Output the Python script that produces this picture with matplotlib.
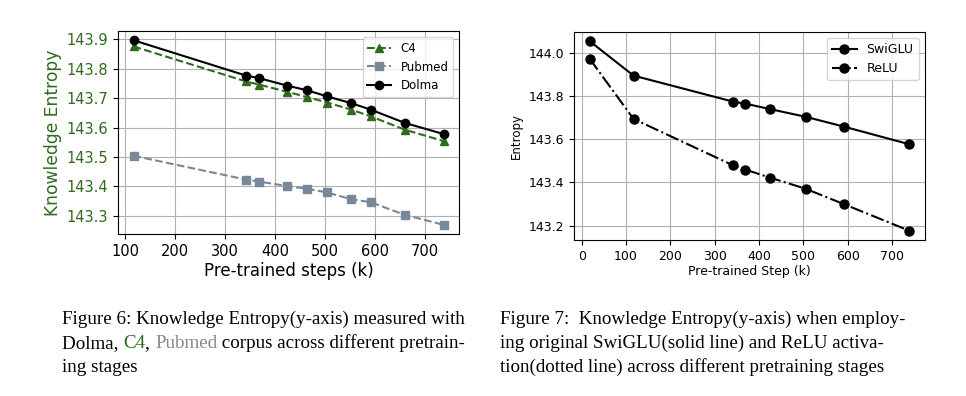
import numpy as np
import matplotlib
matplotlib.use("Agg")
import matplotlib.pyplot as plt

# figure 6 data
steps = [117, 342, 369, 424, 464, 505, 553, 592, 660, 738]
c4 = [143.876, 143.757, 143.746, 143.722, 143.704, 143.685, 143.661, 143.638, 143.593, 143.554]
pubmed = [143.504, 143.423, 143.416, 143.401, 143.392, 143.379, 143.356, 143.346, 143.303, 143.269]
dolma = [143.897, 143.777, 143.768, 143.743, 143.727, 143.706, 143.683, 143.661, 143.616, 143.578]

# figure 7 data
steps2 = [18, 117, 342, 369, 424, 505, 592, 738]
swiglu = [144.056, 143.896, 143.775, 143.766, 143.741, 143.705, 143.659, 143.578]
relu = [143.974, 143.695, 143.479, 143.460, 143.423, 143.371, 143.299, 143.177]

green = "#2e6b1f"
slate = "#778899"

fig = plt.figure(figsize=(9.66, 3.96), dpi=100)

# left plot
ax1 = fig.add_axes([0.1222, 0.409, 0.353, 0.5126])
ax1.plot(steps, c4, "--^", color=green, markersize=6, label="C4")
ax1.plot(steps, pubmed, "--s", color=slate, markersize=6, label="Pubmed")
ax1.plot(steps, dolma, "-o", color="black", markersize=6, label="Dolma")
ax1.set_xticks([100, 200, 300, 400, 500, 600, 700])
ax1.set_yticks([143.3, 143.4, 143.5, 143.6, 143.7, 143.8, 143.9])
ax1.tick_params(axis="x", labelsize=10.5)
ax1.tick_params(axis="y", labelsize=10.5, labelcolor=green)
ax1.set_xlabel("Pre-trained steps (k)", fontsize=12, labelpad=2)
ax1.set_ylabel("Knowledge Entropy", fontsize=12.3, color=green, labelpad=3)
ax1.grid(True)
ax1.legend(fontsize=8.5, loc="upper right")

# right plot
ax2 = fig.add_axes([0.5939, 0.394, 0.3634, 0.526])
ax2.plot(steps2, swiglu, "-o", color="black", markersize=6.5, label="SwiGLU")
ax2.plot(steps2, relu, "-.o", color="black", markersize=6.5, label="ReLU")
ax2.set_xticks([0, 100, 200, 300, 400, 500, 600, 700])
ax2.set_yticks([143.2, 143.4, 143.6, 143.8, 144.0])
ax2.tick_params(labelsize=9)
ax2.set_xlabel("Pre-trained Step (k)", fontsize=9, labelpad=2)
ax2.set_ylabel("Entropy", fontsize=8.5)
ax2.grid(True)
ax2.legend(fontsize=9, loc="upper right")

# captions
cap = dict(fontsize=13.7, family="Liberation Serif", va="baseline")
fig.text(62 / 966, 1 - 324 / 396, "Figure 6: Knowledge Entropy(y-axis) measured with", **cap)
renderer = fig.canvas.get_renderer()
x = 62 / 966
for part, col in [("Dolma, ", "black"), ("C4", green), (", ", "black"),
                  ("Pubmed", "#888888"), (" corpus across different pretrain-", "black")]:
    t = fig.text(x, 1 - 348 / 396, part, color=col, **cap)
    bb = t.get_window_extent(renderer)
    x = bb.x1 / fig.bbox.width
fig.text(62 / 966, 1 - 372 / 396, "ing stages", **cap)

fig.text(500 / 966, 1 - 324 / 396, "Figure 7:  Knowledge Entropy(y-axis) when employ-", **cap)
fig.text(500 / 966, 1 - 348 / 396, "ing original SwiGLU(solid line) and ReLU activa-", **cap)
fig.text(500 / 966, 1 - 372 / 396, "tion(dotted line) across different pretraining stages", **cap)

fig.savefig("out.png", dpi=100)
